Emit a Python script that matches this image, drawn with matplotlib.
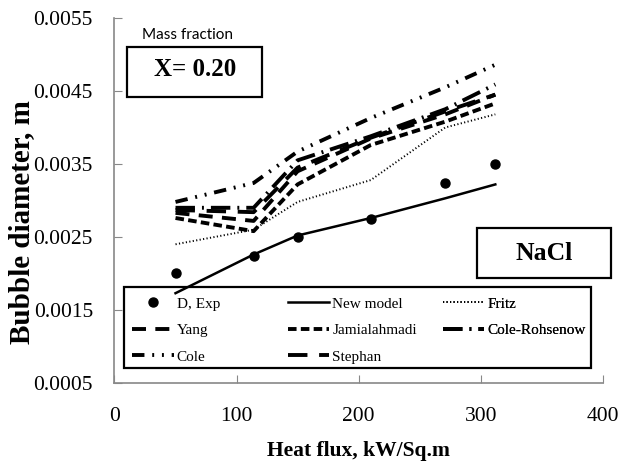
import matplotlib.pyplot as plt
from matplotlib.patches import Rectangle

# values
heat_flux = [50, 114, 150, 210, 271, 312]
d_exp = [0.00200, 0.00224, 0.00250, 0.00274, 0.00324, 0.00350]
new_model = [0.00173, 0.00226, 0.00252, 0.00276, 0.00303, 0.00322]
fritz = [0.00240, 0.00260, 0.00298, 0.00328, 0.00400, 0.00418]
yang = [0.00283, 0.00272, 0.00340, 0.00385, 0.00418, 0.00445]
jamialahmadi = [0.00276, 0.00258, 0.00322, 0.00376, 0.00408, 0.00433]
cole_rohsenow = [0.00290, 0.00290, 0.00355, 0.00388, 0.00425, 0.00459]
cole = [0.00298, 0.00324, 0.00367, 0.00413, 0.00455, 0.00486]
stephan = [0.00287, 0.00284, 0.00345, 0.00386, 0.00422, 0.00445]

x_ticks = [0, 100, 200, 300, 400]
y_ticks = [0.0005, 0.0015, 0.0025, 0.0035, 0.0045, 0.0055]

serif = 'Liberation Serif'

fig = plt.figure(figsize=(6.41, 4.72), dpi=100)
ax = fig.add_axes([0.1786, 0.1886, 0.7617, 0.7733])

lw = 2.8
h_exp, = ax.plot(heat_flux, d_exp, 'o', color='black', markersize=6.5, label='D, Exp')
h_new, = ax.plot(heat_flux, new_model, '-', color='black', lw=1.8, label='New model')
h_fritz, = ax.plot(heat_flux, fritz, color='black', lw=1.4,
                   linestyle=(0, (0.6, 1.2)), label='Fritz')
h_yang, = ax.plot(heat_flux, yang, color='black', lw=lw,
                  linestyle=(0, (3.6, 2.4)), label='Yang')
h_jam, = ax.plot(heat_flux, jamialahmadi, color='black', lw=lw,
                 linestyle=(0, (2.2, 1.1)), label='Jamialahmadi')
h_cr, = ax.plot(heat_flux, cole_rohsenow, color='black', lw=lw,
                linestyle=(0, (5.0, 1.8, 0.5, 1.8)), label='Cole-Rohsenow')
h_cole, = ax.plot(heat_flux, cole, color='black', lw=lw,
                  linestyle=(0, (3.2, 2.0, 0.5, 2.0, 0.5, 2.0)), label='Cole')
h_st, = ax.plot(heat_flux, stephan, color='black', lw=lw,
                linestyle=(0, (5.0, 3.0)), label='Stephan')

ax.set_xlim(0, 400)
ax.set_ylim(0.0005, 0.0055)
ax.set_xticks(x_ticks)
ax.set_yticks(y_ticks)
ax.set_xticklabels([str(v) for v in x_ticks], fontfamily=serif, fontsize=15.5)
ax.set_yticklabels([f'{v:.4f}' for v in y_ticks], fontfamily=serif, fontsize=15.5)
ax.tick_params(axis='x', direction='in', length=6, color='#888888', pad=17)
ax.tick_params(axis='y', direction='in', length=6, color='#888888', pad=15.5)
for s in ['top', 'right']:
    ax.spines[s].set_visible(False)
for s in ['left', 'bottom']:
    ax.spines[s].set_color('#888888')
    ax.spines[s].set_linewidth(1.2)

ax.set_xlabel('Heat flux, kW/Sq.m', fontfamily=serif, fontweight='bold', fontsize=15.5)
ax.xaxis.set_label_coords(0.5, -0.16)
ax.set_ylabel('Bubble diameter, m', fontfamily=serif, fontweight='bold', fontsize=21)
ax.yaxis.set_label_coords(-0.163, 0.44)

# legend: three frameless columns inside one drawn frame
columns = [([h_exp, h_yang, h_cole], 0.0369),
           ([h_new, h_jam, h_st], 0.3554),
           ([h_fritz, h_cr], 0.6729)]
for hs, x0 in columns:
    lg = ax.legend(handles=hs, labels=[h.get_label() for h in hs],
                   loc='upper left', bbox_to_anchor=(x0, 0.236), borderaxespad=0,
                   borderpad=0, frameon=False, handlelength=2.7, handletextpad=0.2,
                   labelspacing=0.84, prop={'family': serif, 'size': 11})
    ax.add_artist(lg)
ax.add_patch(Rectangle((0.0195, 0.0411), 0.9566, 0.2219, transform=ax.transAxes,
                       fill=False, edgecolor='black', lw=1.6, clip_on=False))

# annotation boxes
ax.add_patch(Rectangle((10.5, 0.004422), 110.6, 0.000685, transform=ax.transData,
                       fill=False, edgecolor='black', lw=1.6, clip_on=False))
ax.text(65.8, 0.004788, 'X= 0.20', fontfamily=serif, fontweight='bold', fontsize=18,
        ha='center', va='center')
ax.text(22.5, 0.005265, 'Mass fraction', fontfamily='Lato', fontsize=11,
        ha='left', va='center')

ax.add_patch(Rectangle((296.8, 0.001943), 109.8, 0.000685, transform=ax.transData,
                       fill=False, edgecolor='black', lw=1.6, clip_on=False))
ax.text(351.7, 0.00228, 'NaCl', fontfamily=serif, fontweight='bold', fontsize=18.5,
        ha='center', va='center')

fig.savefig('out.png', dpi=100)
